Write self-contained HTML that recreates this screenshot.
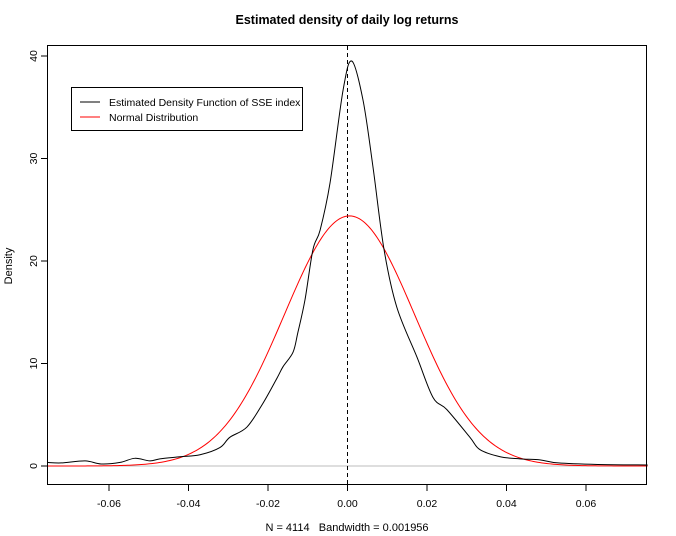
<!DOCTYPE html>
<html><head><meta charset="utf-8"><style>
body{margin:0;background:#fff}
svg{display:block;font-family:"Liberation Sans",Arial,sans-serif}
</style></head><body>
<svg id="chart" width="676" height="536" viewBox="0 0 676 536">
<text x="347" y="24" text-anchor="middle" font-size="12.5" font-weight="bold">Estimated density of daily log returns</text>
<text x="0" y="0" transform="translate(12,266) rotate(-90)" text-anchor="middle" font-size="11">Density</text>
<text x="347" y="531" text-anchor="middle" font-size="11" xml:space="preserve">N = 4114   Bandwidth = 0.001956</text>
<g id="axes"></g>
<g id="marks"></g>
<rect x="47.5" y="45.5" width="599" height="439" fill="none" stroke="#000"/>
<g>
<rect x="71.5" y="87.5" width="231" height="43" fill="#fff" stroke="#000"/>
<line x1="80" y1="102" x2="100" y2="102" stroke="#000"/>
<text x="109" y="106" font-size="10.5">Estimated Density Function of SSE index</text>
<line x1="80" y1="117" x2="100" y2="117" stroke="#f00"/>
<text x="109" y="121" font-size="10.5">Normal Distribution</text>
</g>
</svg>
<script>
const kdeX=[-0.0755,-0.072,-0.066,-0.062,-0.0572,-0.0535,-0.0497,-0.0472,-0.0421,-0.0371,-0.0321,-0.0296,-0.0253,-0.0213,-0.0177,-0.0162,-0.0137,-0.0125,-0.0107,-0.0087,-0.0069,-0.0044,-0.0011,0.0011,0.0039,0.0064,0.0092,0.0124,0.0175,0.0215,0.025,0.0308,0.0333,0.0384,0.0434,0.0484,0.053,0.063,0.0755];
const kdeY=[0.35,0.3,0.5,0.2,0.35,0.75,0.5,0.7,0.9,1.1,1.8,2.8,3.8,6.1,8.6,9.7,11.1,13.0,16.2,21.1,23.0,27.6,36.7,39.5,35.7,29.2,21.1,15.5,10.6,6.7,5.5,2.8,1.6,0.9,0.7,0.6,0.3,0.15,0.1];
const normMean=0.0005;
const normSd=0.01635;
const xTicks=[-0.06,-0.04,-0.02,0,0.02,0.04,0.06];
const xTickLabels=["-0.06","-0.04","-0.02","0.00","0.02","0.04","0.06"];
const yTicks=[0,10,20,30,40];
const yTickLabels=["0","10","20","30","40"];
const NS="http://www.w3.org/2000/svg";
function sx(v){return 347.5+v*3975;}
function sy(v){return 466-v*10.25;}
const axes=document.getElementById('axes'),marks=document.getElementById('marks');
function mk(tag,attrs,parent){const e=document.createElementNS(NS,tag);for(const k in attrs)e.setAttribute(k,attrs[k]);parent.appendChild(e);return e;}
xTicks.forEach((t,i)=>{
 const l=mk('line',{x1:sx(t),x2:sx(t),y1:484.5,y2:491,stroke:'#000'},axes);
 
 
 const tx=mk('text',{x:sx(t),y:507,'text-anchor':'middle','font-size':'10.5'},axes);
 tx.textContent=xTickLabels[i];
 
 
});
yTicks.forEach((t,i)=>{
 const l=mk('line',{x1:41,x2:47.5,y1:sy(t),y2:sy(t),stroke:'#000'},axes);
 
 
 const tx=mk('text',{x:0,y:0,transform:`translate(37,${sy(t)}) rotate(-90)`,'text-anchor':'middle','font-size':'10.5'},axes);
 tx.textContent=yTickLabels[i];
 
 
});
const base=mk('line',{x1:48,x2:646,y1:sy(0),y2:sy(0),stroke:'#bebebe'},marks);


const vl=mk('line',{x1:sx(0),x2:sx(0),y1:46,y2:484,stroke:'#000','stroke-dasharray':'4,3'},marks);


let np=[];
for(let i=0;i<=300;i++){const x=-0.0755+0.151*i/300;const d=Math.exp(-0.5*((x-normMean)/normSd)**2)/(normSd*Math.sqrt(2*Math.PI));np.push(sx(x).toFixed(2)+','+sy(d).toFixed(2));}
const nl=mk('polyline',{points:np.join(' '),fill:'none',stroke:'#f00','stroke-width':1},marks);


let p=kdeX.map((x,i)=>[sx(x),sy(kdeY[i])]);
let d='M'+p[0][0]+','+p[0][1];
for(let i=0;i<p.length-1;i++){const p0=p[i-1]||p[i],p1=p[i],p2=p[i+1],p3=p[i+2]||p2;
 d+=` C${p1[0]+(p2[0]-p0[0])/6},${p1[1]+(p2[1]-p0[1])/6} ${p2[0]-(p3[0]-p1[0])/6},${p2[1]-(p3[1]-p1[1])/6} ${p2[0]},${p2[1]}`;}
const kl=mk('path',{d:d,fill:'none',stroke:'#000','stroke-width':1},marks);


</script>
</body></html>
